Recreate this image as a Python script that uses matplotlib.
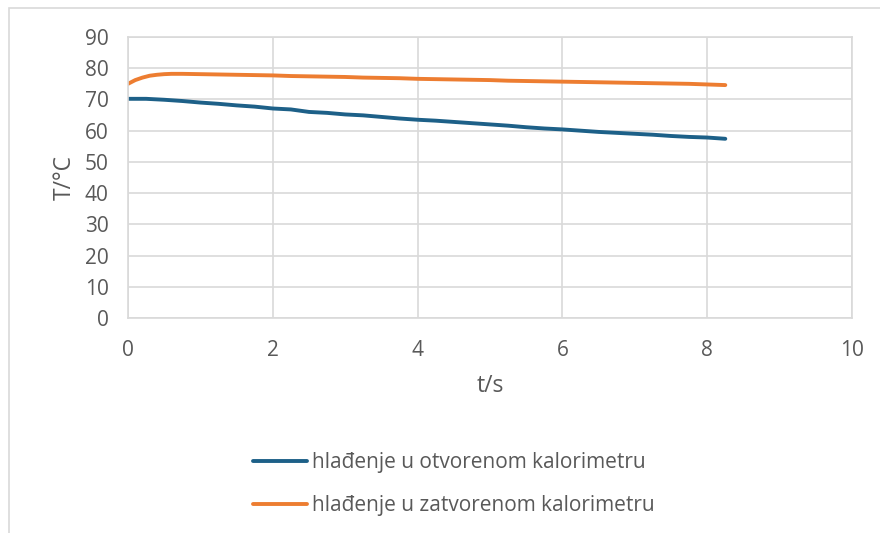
import matplotlib
matplotlib.use("Agg")
import matplotlib.pyplot as plt
from matplotlib.patches import Rectangle

plt.rcParams['font.family'] = ['Open Sans', 'DejaVu Sans']

# --- data ---
t_open = [0.0, 0.25, 0.5, 0.75, 1.0, 1.25, 1.5, 1.75, 2.0, 2.25, 2.5, 2.75, 3.0,
          3.25, 3.5, 3.75, 4.0, 4.25, 4.5, 4.75, 5.0, 5.25, 5.5, 5.75, 6.0,
          6.25, 6.5, 6.75, 7.0, 7.25, 7.5, 7.75, 8.0, 8.25]
T_open = [70.2, 70.2, 69.9, 69.5, 69.0, 68.6, 68.1, 67.7, 67.1, 66.8, 66.0, 65.7, 65.2,
          64.9, 64.4, 63.9, 63.5, 63.2, 62.8, 62.4, 62.0, 61.6, 61.1, 60.7, 60.4,
          60.0, 59.6, 59.3, 59.0, 58.7, 58.3, 58.0, 57.8, 57.4]

t_closed = [0.0, 0.1, 0.2, 0.3, 0.4, 0.5, 0.6, 0.75, 1.0, 1.25, 1.5, 1.75, 2.0,
            2.25, 2.5, 2.75, 3.0, 3.25, 3.5, 3.75, 4.0, 4.25, 4.5, 4.75, 5.0,
            5.25, 5.5, 5.75, 6.0, 6.25, 6.5, 6.75, 7.0, 7.25, 7.5, 7.75, 8.0, 8.25]
T_closed = [75.0, 76.2, 77.0, 77.6, 77.9, 78.1, 78.2, 78.2, 78.1, 78.0, 77.9, 77.8, 77.7,
            77.5, 77.4, 77.3, 77.2, 77.0, 76.9, 76.8, 76.6, 76.5, 76.4, 76.3, 76.2,
            76.0, 75.9, 75.8, 75.7, 75.6, 75.5, 75.4, 75.3, 75.2, 75.1, 75.0, 74.8, 74.6]

labels = ["hlađenje u otvorenom kalorimetru", "hlađenje u zatvorenom kalorimetru"]
x_ticks = [0, 2, 4, 6, 8, 10]
y_ticks = [0, 10, 20, 30, 40, 50, 60, 70, 80, 90]

# --- styling ---
blue = "#1D6088"
orange = "#ED7D31"
grid_c = "#D9D9D9"
text_c = "#595959"
fs = 15

fig = plt.figure(figsize=(8.8, 5.33), dpi=100)
fig.patch.set_facecolor("white")
fig.patches.append(Rectangle((8.5 / 880, -0.1), 1.2, 1 - 8 / 533 + 0.1,
                             transform=fig.transFigure, fill=False,
                             edgecolor=grid_c, linewidth=1.2))

ax = fig.add_axes([128 / 880, 1 - 318 / 533, (852 - 128) / 880, (318 - 37) / 533])
l1, = ax.plot(t_open, T_open, color=blue, lw=2.8, solid_capstyle="round")
l2, = ax.plot(t_closed, T_closed, color=orange, lw=2.8, solid_capstyle="round")

ax.set_xlim(0, 10)
ax.set_ylim(0, 90)
ax.set_xticks(x_ticks)
ax.set_yticks(y_ticks)
ax.grid(True, color=grid_c, lw=1.2)
ax.set_axisbelow(True)
for s in ax.spines.values():
    s.set_color(grid_c)
    s.set_linewidth(1.2)
ax.tick_params(length=0, labelsize=fs, labelcolor=text_c)
ax.tick_params(axis="x", pad=16)
ax.tick_params(axis="y", pad=14)
ax.set_xlabel("t/s", fontsize=fs + 1.5, color=text_c, labelpad=9)
ax.set_ylabel("T/°C", fontsize=fs + 1.5, color=text_c, labelpad=6)

fig.legend([l1, l2], labels, loc="upper left",
           bbox_to_anchor=(253 / 880, 1 - 452 / 533),
           frameon=False, fontsize=fs, labelcolor=text_c,
           handlelength=2.6, handletextpad=0.25, labelspacing=1.08,
           borderaxespad=0, borderpad=0)

fig.savefig("out.png", dpi=100, facecolor="white")
